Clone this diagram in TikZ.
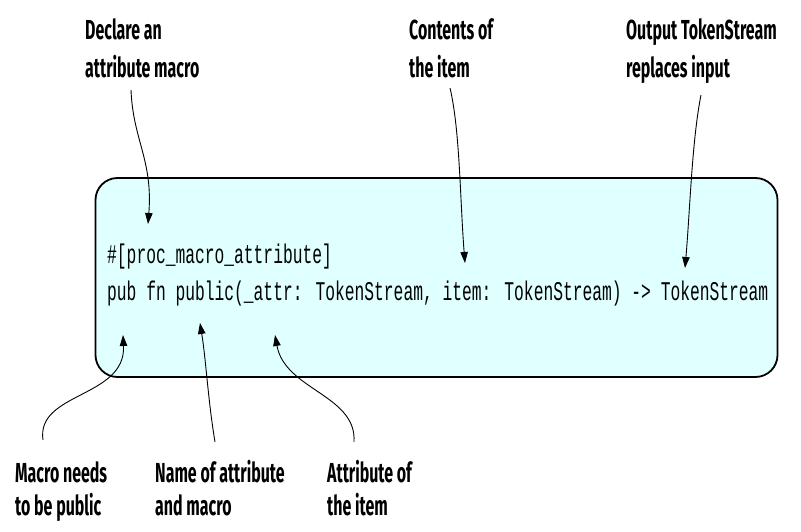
\documentclass[tikz,border=0pt]{standalone}
\usepackage{fontspec}
\usetikzlibrary{arrows.meta}
\newfontfamily\lblfont{Fira Sans}[FakeStretch=0.58]
\newfontfamily\codefont{Liberation Mono}[FakeStretch=0.603]
\definecolor{boxfill}{RGB}{224,255,255}
\tikzset{
  lbl/.style={anchor=base west, inner sep=0pt, align=left, font=\lblfont\bfseries\fontsize{27.5}{38}\selectfont},
  lblb/.style={lbl, font=\lblfont\bfseries\fontsize{27.5}{33}\selectfont},
  code/.style={anchor=base west, inner sep=0pt, font=\codefont\fontsize{27}{37}\selectfont},
  callout/.style={line width=0.9pt, -{Triangle[length=11pt,width=7.5pt]}},
  codebox/.style={draw, line width=1.8pt, rounded corners=22pt, fill=boxfill, inner sep=0pt}
}
\begin{document}
\begin{tikzpicture}[x=1pt,y=-1pt]
\useasboundingbox (0,0) rectangle (801,532);
% box
\node[codebox, minimum width=682pt, minimum height=199pt] (box) at (436.5,277.5) {};
% code
\node[code] (l1) at (107,263) {\#[proc\_macro\_attribute]};
\node[code] (l2) at (107,300) {pub fn public(\_attr: TokenStream, item: TokenStream) -> TokenStream};
% labels (top) -- base anchor is the last line
\node[lbl] (decl) at (85,78) {Declare an\\attribute macro};
\node[lbl] (cont) at (409,78) {Contents of\\the item};
\node[lbl] (outp) at (626,78) {Output TokenStream\\replaces input};
% labels (bottom)
\node[lblb] (pub) at (15,515) {Macro needs\\to be public};
\node[lblb] (name) at (155,515) {Name of attribute\\and macro};
\node[lblb] (attr) at (327,515) {Attribute of\\the item};
% coordinates
\coordinate (s1) at (131,90);  \coordinate (t1) at (148,224);
\coordinate (s2) at (450,88);  \coordinate (t2) at (465,263);
\coordinate (s3) at (701,95);  \coordinate (t3) at (685,268);
\coordinate (s4) at (43,440);  \coordinate (t4) at (123,335);
\coordinate (s5) at (215,442); \coordinate (t5) at (200,323);
\coordinate (s6) at (354,442); \coordinate (t6) at (275,335);
% callouts
\draw[callout] (s1) .. controls (133,140) and (153,160) .. (t1);
\draw[callout] (s2) .. controls (460,130) and (460,200) .. (t2);
\draw[callout] (s3) .. controls (692,140) and (690,210) .. (t3);
\draw[callout] (s4) .. controls (36,392) and (126,398) .. (t4);
\draw[callout] (s5) .. controls (208,400) and (206,360) .. (t5);
\draw[callout] (s6) .. controls (357,395) and (285,390) .. (t6);
\end{tikzpicture}
\end{document}
